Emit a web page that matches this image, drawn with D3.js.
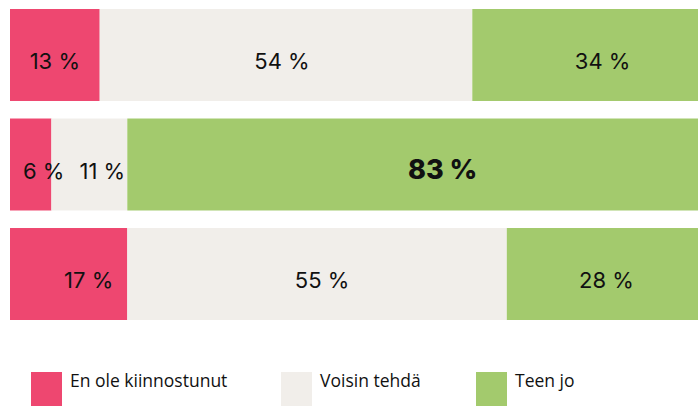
<!DOCTYPE html>
<html>
<head>
<meta charset="utf-8">
<script src="https://cdn.jsdelivr.net/npm/d3@7"></script>
<style>
    body { margin: 0; background: #fff; }
    svg { display: block; }
</style>
</head>
<body>
<div id="chart"></div>
<script>
// data
const rows = ['r1', 'r2', 'r3'];
const categories = ['En ole kiinnostunut', 'Voisin tehdä', 'Teen jo'];
const notInterested = [13, 6, 17];
const couldDo = [54, 11, 55];
const doAlready = [34, 83, 28];

const colors = ['#ee4770', '#f1eeea', '#a3ca6d'];
// small nudges so labels sit where the original put them
const labelShift = [[0, -4, 13], [13, 13, 29], [20, 5, 3]];

const width = 698, height = 406;

const svg = d3.select('#chart').append('svg')
    .attr('width', width)
    .attr('height', height);

const x = d3.scaleLinear().domain([0, 100]).range([10, 700]);
const y = d3.scaleBand().domain(rows).range([9, 320]).paddingInner(0.16);

const table = rows.map((r, i) => ({
    row: r,
    values: [notInterested[i], couldDo[i], doAlready[i]]
}));

const segs = [];
table.forEach(function (d, i) {
    let start = 0;
    d.values.forEach(function (v, k) {
        segs.push({ row: d.row, ri: i, k: k, v: v, x0: start, x1: start + v, big: v > 60 });
        start += v;
    });
});

svg.append('g')
    .selectAll('rect')
    .data(segs)
    .enter()
    .append('rect')
        .attr('x', d => x(d.x0))
        .attr('y', d => y(d.row))
        .attr('width', d => x(d.x1) - x(d.x0))
        .attr('height', y.bandwidth())
        .attr('fill', d => colors[d.k]);

svg.append('g')
    .selectAll('text')
    .data(segs)
    .enter()
    .append('text')
        .attr('x', d => x((d.x0 + d.x1) / 2) + labelShift[d.ri][d.k])
        .attr('y', d => y(d.row) + y.bandwidth() / 2 + 14)
        .attr('text-anchor', 'middle')
        .attr('font-family', 'Inter, "Noto Sans", sans-serif')
        .attr('font-size', d => d.big ? 27 : 22)
        .attr('font-weight', d => d.big ? 800 : 400)
        .attr('fill', '#111')
        .text(d => d.v + ' %');

// legend
const legendX = [31, 281, 476];
const legend = svg.append('g')
    .selectAll('g')
    .data(categories)
    .enter()
    .append('g')
        .attr('transform', (d, i) => `translate(${legendX[i]},372)`);

legend.append('rect')
    .attr('width', 31)
    .attr('height', 40)
    .attr('fill', (d, i) => colors[i]);

legend.append('text')
    .attr('x', 39)
    .attr('y', 15)
    .attr('font-family', '"Open Sans", sans-serif')
    .attr('font-size', 17.5)
    .attr('fill', '#111')
    .text(d => d);
</script>
</body>
</html>
